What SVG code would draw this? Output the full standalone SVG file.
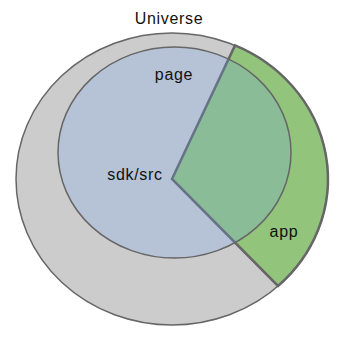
<svg xmlns="http://www.w3.org/2000/svg" width="343" height="339" viewBox="0 0 343 339">
  <style>
    .lbl { font-family: "Liberation Sans", Arial, sans-serif; font-size: 16px; letter-spacing: 0.7px; fill: #111; text-anchor: middle; }
    .edge { stroke: #666; stroke-width: 1.5; }
  </style>
  <rect width="343" height="339" fill="#ffffff"/>
  <g id="universe">
    <ellipse class="edge" cx="172" cy="179" rx="156" ry="146" fill="#cccccc"/>
    <text class="lbl" x="169" y="24">Universe</text>
  </g>
  <g id="app">
    <path d="M172,179 L235,45.4 A156,146 0 0,1 278,286 Z" fill="#92c47c" stroke="#666" stroke-width="2.5" stroke-linejoin="miter"/>
    <text class="lbl" x="284" y="237">app</text>
  </g>
  <g id="sdk-src">
    <ellipse cx="174.5" cy="152.5" rx="116.5" ry="105.5" fill="#68a0fa" fill-opacity="0.22" stroke="#666" stroke-width="1.5"/>
    <text class="lbl" x="135" y="180">sdk/src</text>
  </g>
  <g id="page">
    <text class="lbl" x="174" y="80">page</text>
  </g>
</svg>
